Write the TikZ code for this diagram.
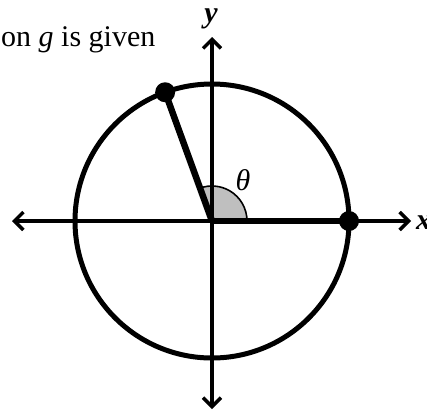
\documentclass[tikz,border=0pt]{standalone}
\usepackage{fontspec}
\setmainfont{Liberation Serif}
\usetikzlibrary{arrows.meta,calc}
\begin{document}
\begin{tikzpicture}[x=1pt,y=-1pt,
  axis/.style={line width=3.4pt,{Straight Barb[length=9pt,width=18pt,line width=3.4pt]}-{Straight Barb[length=9pt,width=18pt,line width=3.4pt]}},
  dot/.style={circle,fill=black,inner sep=0pt,minimum size=20pt},
  lbl/.style={font=\fontsize{30}{36}\selectfont,inner sep=0pt}]
\useasboundingbox (0,0) rectangle (427,410);
\coordinate (O) at (212,221);
\coordinate (L) at (12,221);
\coordinate (R) at (411,221);
\coordinate (T) at (212,37);
\coordinate (B) at (212,409);
\fill[gray!50] (O) -- ++(0:35) arc[start angle=0,end angle=-110,radius=35] -- cycle;
\draw[line width=1.6pt] (O) ++(0:35) arc[start angle=0,end angle=-110,radius=35];
\draw[axis] (L) -- (R);
\draw[axis] (B) -- (T);
\draw[line width=5pt] (O) circle[radius=137];
\node[dot] (P) at ($(O)+(-110:137)$) {};
\node[dot] (Q) at (349,221) {};
\draw[line width=6.5pt] (O) -- (P.center);
\draw[line width=6.5pt] (O) -- (Q.center);
\node[lbl] (th) at (243,180) {\textit{θ}};
\node[lbl,anchor=west] (xl) at (416,223) {\textbf{\textit{x}}};
\node[lbl] (yl) at (211,19) {\textbf{\textit{y}}};
\node[lbl,anchor=base west] (txt) at (1,46) {on \textit{g} is given};
\end{tikzpicture}
\end{document}
